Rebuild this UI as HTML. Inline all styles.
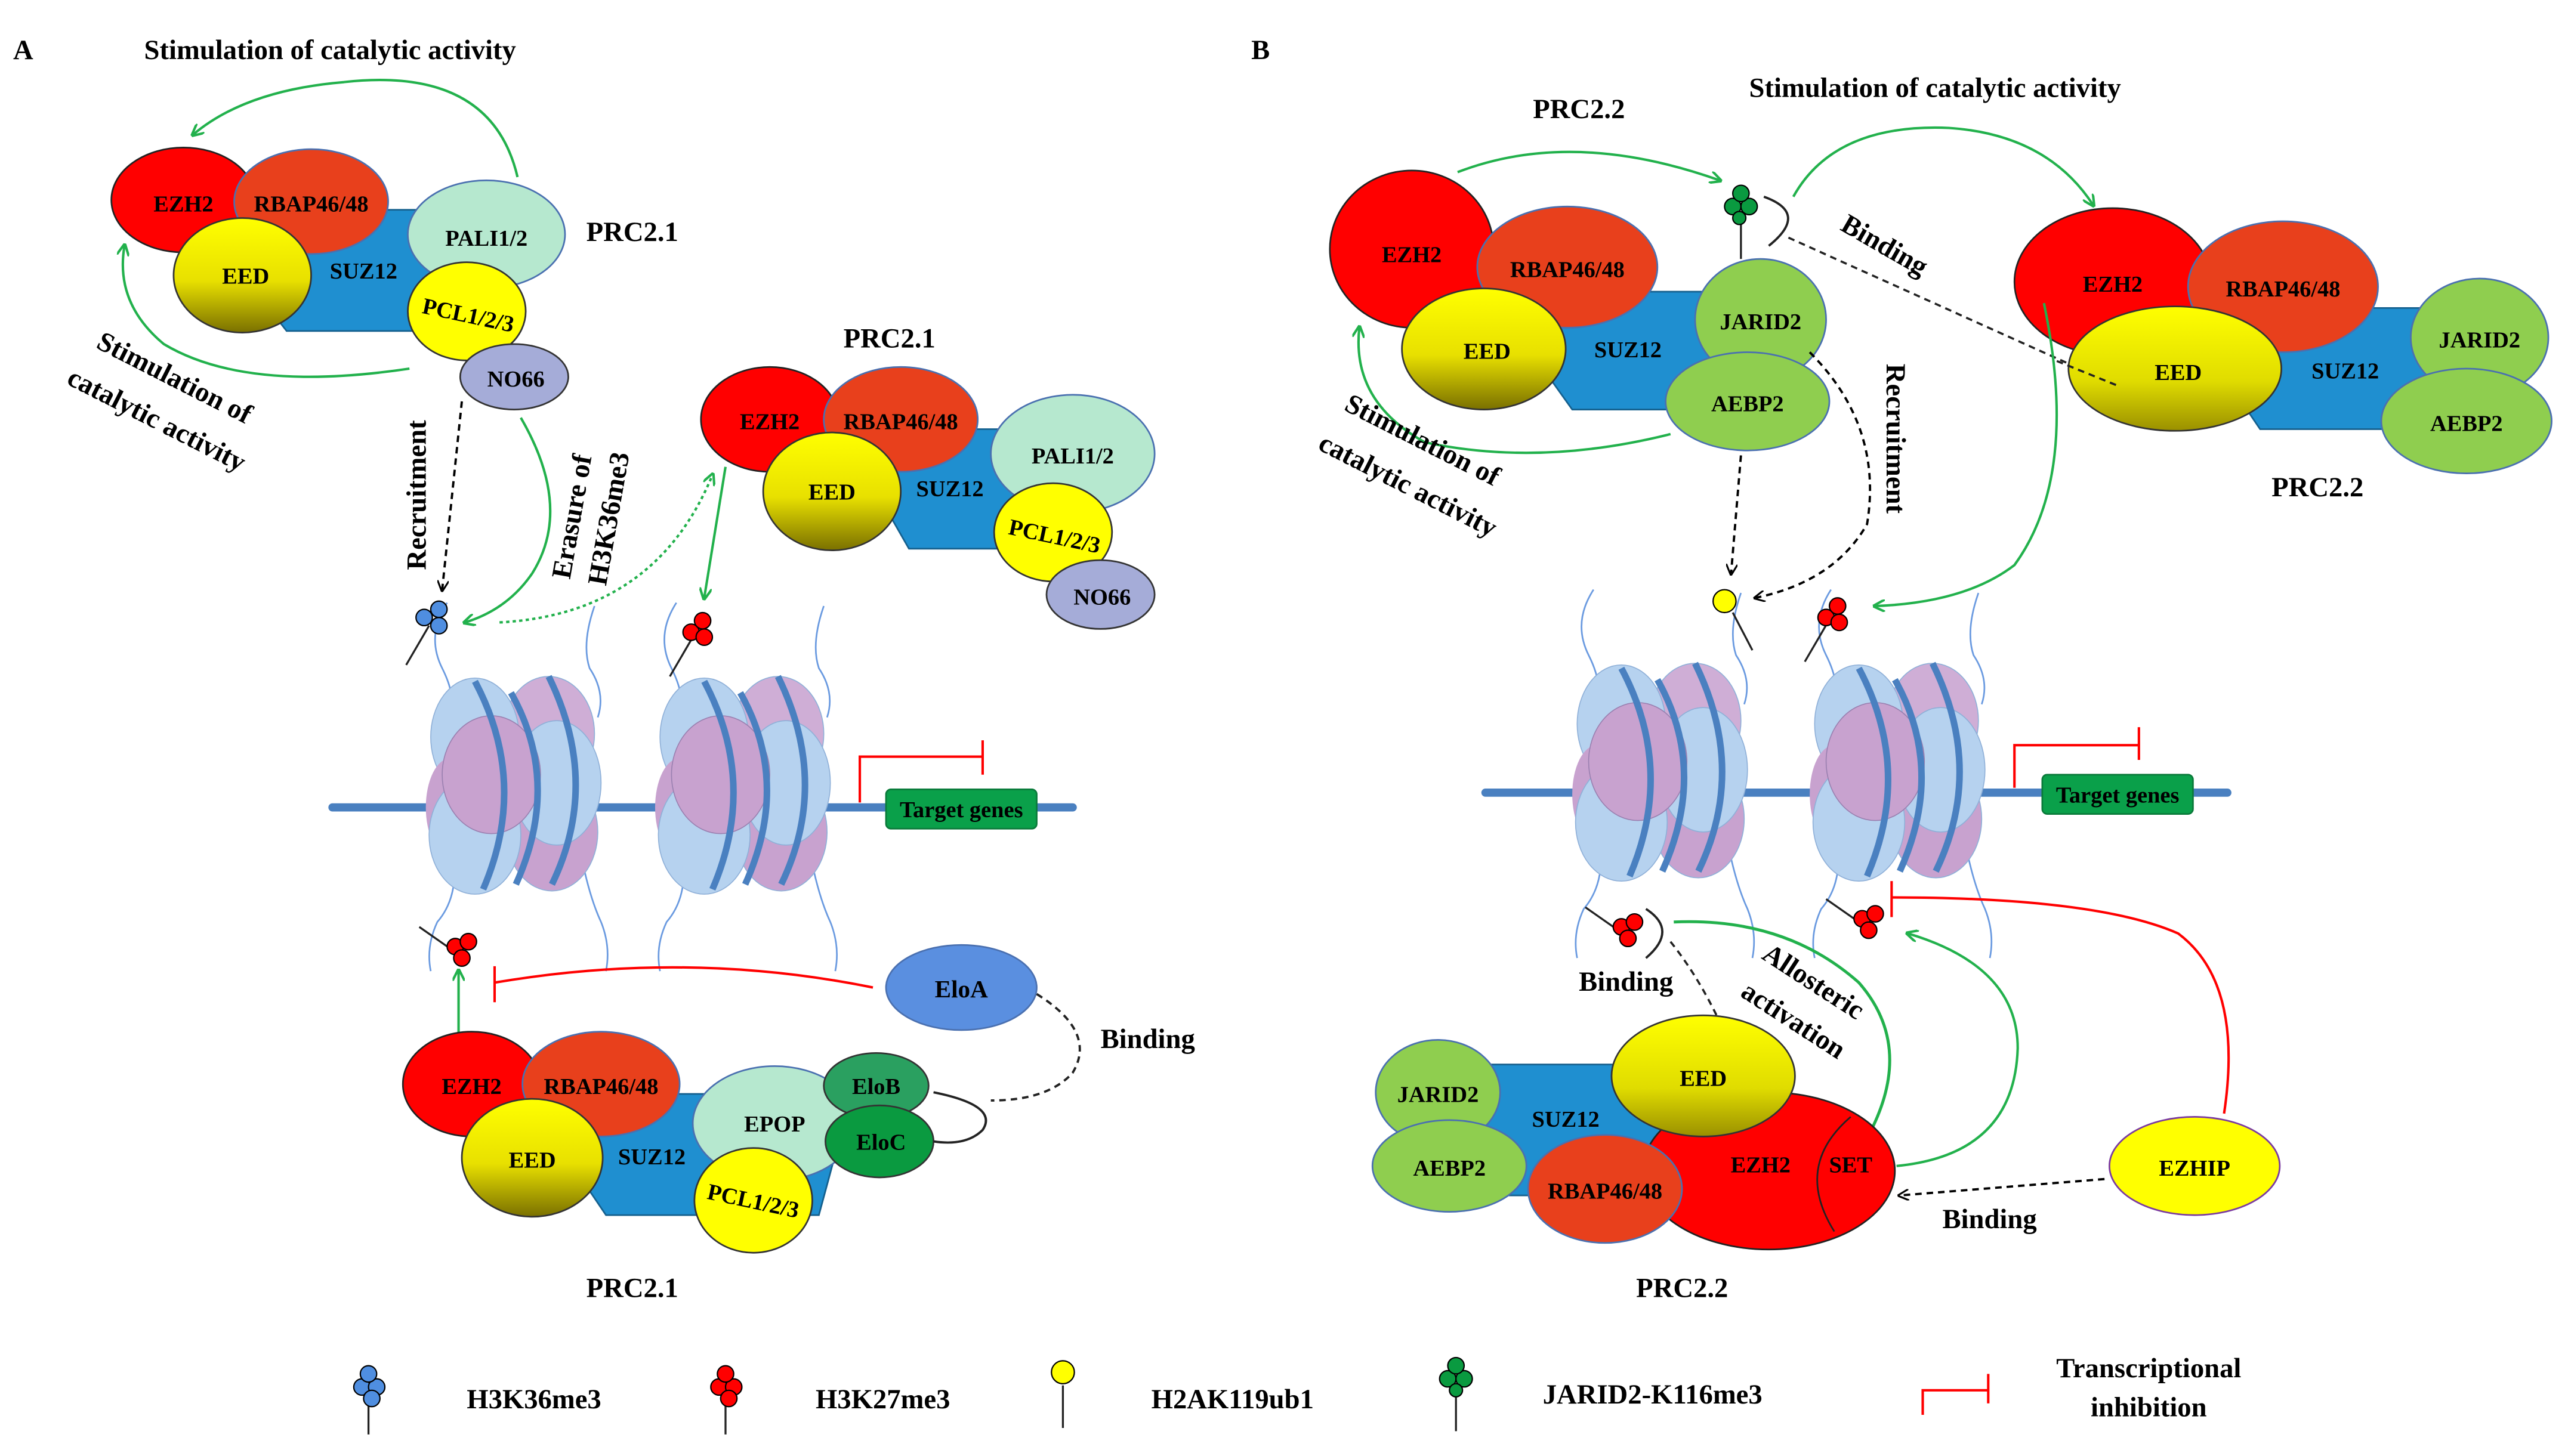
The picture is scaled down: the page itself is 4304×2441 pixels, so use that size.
<!DOCTYPE html>
<html><head><meta charset="utf-8"><style>
html,body{margin:0;padding:0;background:#fff;}
svg{display:block;}
text{font-family:"Liberation Serif",serif;font-weight:bold;fill:#000;}
</style></head><body>
<svg width="4304" height="2441" viewBox="0 0 1568 889" xmlns="http://www.w3.org/2000/svg">
<defs>
<linearGradient id="eed" x1="0" y1="0" x2="0" y2="1"><stop offset="0" stop-color="#ffff00"/><stop offset="0.55" stop-color="#e8e000"/><stop offset="1" stop-color="#7a7000"/></linearGradient>
<linearGradient id="eed2" x1="0" y1="0" x2="0" y2="1"><stop offset="0" stop-color="#ffff00"/><stop offset="0.6" stop-color="#e0dc00"/><stop offset="1" stop-color="#9a9000"/></linearGradient>
<marker id="ga" viewBox="0 0 10 10" refX="8" refY="5" markerWidth="5" markerHeight="5" orient="auto-start-reverse"><path d="M0,0 L10,5 L0,10" fill="none" stroke="#22b14c" stroke-width="2"/></marker>
<marker id="ka" viewBox="0 0 10 10" refX="8" refY="5" markerWidth="5" markerHeight="5" orient="auto"><path d="M0,0 L10,5 L0,10" fill="none" stroke="#000" stroke-width="1.6"/></marker>
<g id="nuc">
<path d="M-42,-110 Q-55,-90 -45,-70 Q-35,-50 -42,-40" fill="none" stroke="#6a9ae0" stroke-width="1"/>
<path d="M48,-108 Q40,-85 45,-70 Q55,-55 50,-40" fill="none" stroke="#6a9ae0" stroke-width="1"/>
<path d="M-38,45 Q-35,70 -48,85 Q-55,100 -52,115" fill="none" stroke="#6a9ae0" stroke-width="1"/>
<path d="M40,45 Q45,70 52,85 Q58,100 55,115" fill="none" stroke="#6a9ae0" stroke-width="1"/>
<ellipse cx="20" cy="-30" rx="28" ry="35" fill="#cfaed6" stroke="#8fb0d8" stroke-width="0.6"/>
<ellipse cx="-25" cy="-28" rx="27" ry="36" fill="#b6d2ef" stroke="#8fb0d8" stroke-width="0.6"/>
<ellipse cx="22" cy="30" rx="28" ry="36" fill="#c8a2cf" stroke="#8fb0d8" stroke-width="0.6"/>
<ellipse cx="-40" cy="15" rx="15" ry="30" fill="#c8a2cf"/>
<ellipse cx="-25" cy="32" rx="28" ry="36" fill="#b6d2ef" stroke="#8fb0d8" stroke-width="0.6"/>
<ellipse cx="25" cy="0" rx="27" ry="38" fill="#b6d2ef" stroke="#8fb0d8" stroke-width="0.6"/>
<ellipse cx="-15" cy="-5" rx="30" ry="36" fill="#c8a2cf" stroke="#9a80b0" stroke-width="0.6"/>
<path d="M-25,-62 Q8,0 -20,65" fill="none" stroke="#4a80c0" stroke-width="4"/>
<path d="M-3,-55 Q28,0 0,62" fill="none" stroke="#4a80c0" stroke-width="4"/>
<path d="M20,-65 Q52,0 22,62" fill="none" stroke="#4a80c0" stroke-width="4"/>
</g>
<g id="mred"><line x1="0" y1="0" x2="-14" y2="24" stroke="#222" stroke-width="1.2"/><circle cx="-1" cy="-3" r="5" fill="#f00" stroke="#000" stroke-width="0.8"/><circle cx="6" cy="-10" r="5" fill="#f00" stroke="#000" stroke-width="0.8"/><circle cx="7" cy="0" r="5" fill="#f00" stroke="#000" stroke-width="0.8"/></g>
<g id="mred2"><line x1="0" y1="0" x2="-20" y2="-14" stroke="#222" stroke-width="1.2"/><circle cx="2" cy="-2" r="5" fill="#f00" stroke="#000" stroke-width="0.8"/><circle cx="10" cy="-5" r="5" fill="#f00" stroke="#000" stroke-width="0.8"/><circle cx="6" cy="5" r="5" fill="#f00" stroke="#000" stroke-width="0.8"/></g>
<g id="mblue"><line x1="0" y1="0" x2="-14" y2="24" stroke="#222" stroke-width="1.2"/><circle cx="-3" cy="-5" r="5" fill="#4f8ee0" stroke="#000" stroke-width="0.8"/><circle cx="6" cy="-10" r="5" fill="#4f8ee0" stroke="#000" stroke-width="0.8"/><circle cx="6" cy="0" r="5" fill="#4f8ee0" stroke="#000" stroke-width="0.8"/></g>
</defs>

<text x="8" y="36" font-size="17">A</text>
<text x="764" y="36" font-size="17">B</text>
<text x="88" y="36" font-size="17">Stimulation of catalytic activity</text>
<text x="1068" y="59" font-size="17">Stimulation of catalytic activity</text>

<!-- DNA -->
<line x1="203" y1="493" x2="655" y2="493" stroke="#4a80c0" stroke-width="5" stroke-linecap="round"/>
<line x1="907" y1="484" x2="1360" y2="484" stroke="#4a80c0" stroke-width="5" stroke-linecap="round"/>
<use href="#nuc" transform="translate(315,478)"/>
<use href="#nuc" transform="translate(455,478)"/>
<use href="#nuc" transform="translate(1015,470)"/>
<use href="#nuc" transform="translate(1160,470)"/>
<rect x="541" y="482" width="92" height="24" rx="3" fill="#0aa04a" stroke="#0a7a3a"/>
<text x="587" y="499" font-size="14" text-anchor="middle">Target genes</text>
<path d="M525,490 V462 H600 M600,452 V473" fill="none" stroke="#f00" stroke-width="1.5"/>
<rect x="1247" y="473" width="92" height="24" rx="3" fill="#0aa04a" stroke="#0a7a3a"/>
<text x="1293" y="490" font-size="14" text-anchor="middle">Target genes</text>
<path d="M1230,481 V455 H1306 M1306,444 V464" fill="none" stroke="#f00" stroke-width="1.5"/>

<!-- A top complex -->
<path d="M150,128 H285 L300,160 L285,202 H175 L150,170 Z" fill="#1f8fd0" stroke="#15608e"/>
<ellipse cx="112" cy="122" rx="44" ry="32" fill="#f00" stroke="#222"/>
<ellipse cx="190" cy="123" rx="47" ry="32" fill="#e8401c" stroke="#4a70b0"/>
<ellipse cx="148" cy="168" rx="42" ry="35" fill="url(#eed)" stroke="#333"/>
<ellipse cx="297" cy="143" rx="48" ry="33" fill="#b6e8cf" stroke="#4a70b0"/>
<ellipse cx="285" cy="190" rx="36" ry="30" fill="#ffff00" stroke="#333"/>
<ellipse cx="314" cy="230" rx="33" ry="20" fill="#a5acd8" stroke="#333"/>
<text x="112" y="129" font-size="14" text-anchor="middle">EZH2</text>
<text x="190" y="129" font-size="14" text-anchor="middle">RBAP46/48</text>
<text x="150" y="173" font-size="14" text-anchor="middle">EED</text>
<text x="222" y="170" font-size="14" text-anchor="middle">SUZ12</text>
<text x="297" y="150" font-size="14" text-anchor="middle">PALI1/2</text>
<text x="286" y="197" font-size="14" text-anchor="middle" transform="rotate(12 286 192)">PCL1/2/3</text>
<text x="315" y="236" font-size="14" text-anchor="middle">NO66</text>
<text x="358" y="147" font-size="17">PRC2.1</text>
<path d="M316,108 Q300,40 210,50 Q150,55 118,82" fill="none" stroke="#22b14c" stroke-width="1.5" marker-end="url(#ga)"/>
<path d="M250,225 Q150,240 100,210 Q70,185 76,150" fill="none" stroke="#22b14c" stroke-width="1.5" marker-end="url(#ga)"/>
<text font-size="17" transform="translate(58,212) rotate(27)">Stimulation of</text>
<text font-size="17" transform="translate(40,234) rotate(27)">catalytic activity</text>

<!-- A second complex -->
<path d="M540,262 H650 L668,300 L650,335 H555 L535,300 Z" fill="#1f8fd0" stroke="#15608e"/>
<ellipse cx="470" cy="256" rx="42" ry="32" fill="#f00" stroke="#222"/>
<ellipse cx="550" cy="256" rx="47" ry="32" fill="#e8401c" stroke="#4a70b0"/>
<ellipse cx="508" cy="300" rx="42" ry="36" fill="url(#eed)" stroke="#333"/>
<ellipse cx="655" cy="277" rx="50" ry="36" fill="#b6e8cf" stroke="#4a70b0"/>
<ellipse cx="643" cy="325" rx="36" ry="30" fill="#ffff00" stroke="#333"/>
<ellipse cx="672" cy="363" rx="33" ry="21" fill="#a5acd8" stroke="#333"/>
<text x="470" y="262" font-size="14" text-anchor="middle">EZH2</text>
<text x="550" y="262" font-size="14" text-anchor="middle">RBAP46/48</text>
<text x="508" y="305" font-size="14" text-anchor="middle">EED</text>
<text x="580" y="303" font-size="14" text-anchor="middle">SUZ12</text>
<text x="655" y="283" font-size="14" text-anchor="middle">PALI1/2</text>
<text x="644" y="332" font-size="14" text-anchor="middle" transform="rotate(12 644 327)">PCL1/2/3</text>
<text x="673" y="369" font-size="14" text-anchor="middle">NO66</text>
<text x="515" y="212" font-size="17">PRC2.1</text>
<line x1="443" y1="285" x2="430" y2="365" stroke="#22b14c" stroke-width="1.5" marker-end="url(#ga)"/>
<path d="M305,380 Q400,375 435,290" fill="none" stroke="#22b14c" stroke-width="1.5" stroke-dasharray="2,2" marker-end="url(#ga)"/>

<!-- A marks & arrows -->
<use href="#mblue" transform="translate(262,382)"/>
<use href="#mred" transform="translate(423,389)"/>
<line x1="282" y1="245" x2="270" y2="360" stroke="#000" stroke-width="1.4" stroke-dasharray="4,3" marker-end="url(#ka)"/>
<text font-size="17" transform="translate(260,348) rotate(-90)">Recruitment</text>
<path d="M318,255 Q350,310 325,350 Q310,372 284,380" fill="none" stroke="#22b14c" stroke-width="1.5" marker-end="url(#ga)"/>
<text font-size="17" transform="translate(348,354) rotate(-80)">Erasure of</text>
<text font-size="17" transform="translate(370,358) rotate(-80)">H3K36me3</text>

<!-- A bottom complex -->
<use href="#mred2" transform="translate(276,580)"/>
<line x1="280" y1="632" x2="280" y2="593" stroke="#22b14c" stroke-width="1.5" marker-end="url(#ga)"/>
<path d="M533,603 Q420,580 302,600 M302,590 V612" fill="none" stroke="#f00" stroke-width="1.5"/>
<path d="M350,668 H500 L510,705 L500,742 H370 L345,705 Z" fill="#1f8fd0" stroke="#15608e"/>
<ellipse cx="288" cy="662" rx="42" ry="32" fill="#f00" stroke="#222"/>
<ellipse cx="367" cy="662" rx="48" ry="32" fill="#e8401c" stroke="#4a70b0"/>
<ellipse cx="325" cy="707" rx="43" ry="36" fill="url(#eed)" stroke="#333"/>
<ellipse cx="473" cy="686" rx="50" ry="35" fill="#b6e8cf" stroke="#4a70b0"/>
<ellipse cx="535" cy="663" rx="32" ry="20" fill="#2aa060" stroke="#333"/>
<ellipse cx="537" cy="697" rx="33" ry="22" fill="#0a9a40" stroke="#333"/>
<ellipse cx="460" cy="733" rx="36" ry="32" fill="#ffff00" stroke="#333"/>
<ellipse cx="587" cy="603" rx="46" ry="26" fill="#5a8fe0" stroke="#4a70b0"/>
<text x="288" y="668" font-size="14" text-anchor="middle">EZH2</text>
<text x="367" y="668" font-size="14" text-anchor="middle">RBAP46/48</text>
<text x="325" y="713" font-size="14" text-anchor="middle">EED</text>
<text x="398" y="711" font-size="14" text-anchor="middle">SUZ12</text>
<text x="473" y="691" font-size="14" text-anchor="middle">EPOP</text>
<text x="535" y="668" font-size="14" text-anchor="middle">EloB</text>
<text x="538" y="702" font-size="14" text-anchor="middle">EloC</text>
<text x="460" y="738" font-size="14" text-anchor="middle" transform="rotate(12 460 733)">PCL1/2/3</text>
<text x="587" y="609" font-size="15" text-anchor="middle">EloA</text>
<path d="M570,667 Q610,675 600,690 Q590,700 570,697" fill="none" stroke="#222" stroke-width="1.4"/>
<path d="M633,607 Q670,630 655,655 Q640,672 605,672" fill="none" stroke="#222" stroke-width="1.4" stroke-dasharray="4,3"/>
<text x="672" y="640" font-size="17">Binding</text>
<text x="358" y="792" font-size="17">PRC2.1</text>

<!-- B top-left complex -->
<path d="M940,178 H1055 L1070,215 L1055,250 H960 L935,215 Z" fill="#1f8fd0" stroke="#15608e"/>
<ellipse cx="862" cy="152" rx="50" ry="48" fill="#f00" stroke="#222"/>
<ellipse cx="957" cy="163" rx="55" ry="37" fill="#e8401c" stroke="#4a70b0"/>
<ellipse cx="906" cy="213" rx="50" ry="37" fill="url(#eed)" stroke="#333"/>
<ellipse cx="1075" cy="195" rx="40" ry="37" fill="#8fce4f" stroke="#4a70b0"/>
<ellipse cx="1067" cy="245" rx="50" ry="30" fill="#8fce4f" stroke="#4a70b0"/>
<text x="862" y="160" font-size="14" text-anchor="middle">EZH2</text>
<text x="957" y="169" font-size="14" text-anchor="middle">RBAP46/48</text>
<text x="908" y="219" font-size="14" text-anchor="middle">EED</text>
<text x="994" y="218" font-size="14" text-anchor="middle">SUZ12</text>
<text x="1075" y="201" font-size="14" text-anchor="middle">JARID2</text>
<text x="1067" y="251" font-size="14" text-anchor="middle">AEBP2</text>
<text x="936" y="72" font-size="17">PRC2.2</text>
<line x1="1063" y1="158" x2="1063" y2="133" stroke="#222" stroke-width="1.2"/>
<circle cx="1058" cy="126" r="5" fill="#0a9a40" stroke="#000" stroke-width="0.8"/>
<circle cx="1068" cy="126" r="5" fill="#0a9a40" stroke="#000" stroke-width="0.8"/>
<circle cx="1063" cy="118" r="5" fill="#0a9a40" stroke="#000" stroke-width="0.8"/>
<circle cx="1062" cy="133" r="4" fill="#0a9a40" stroke="#000" stroke-width="0.8"/>
<path d="M1077,120 Q1105,130 1080,150" fill="none" stroke="#222" stroke-width="1.4"/>
<path d="M1092,145 L1292,235" stroke="#222" stroke-width="1.3" stroke-dasharray="4,3"/>
<text font-size="17" transform="translate(1123,140) rotate(30)">Binding</text>
<path d="M890,105 Q960,78 1050,110" fill="none" stroke="#22b14c" stroke-width="1.5" marker-end="url(#ga)"/>
<path d="M1095,120 Q1120,75 1190,78 Q1250,82 1278,125" fill="none" stroke="#22b14c" stroke-width="1.5" marker-end="url(#ga)"/>
<path d="M1020,265 Q940,285 870,270 Q825,245 830,200" fill="none" stroke="#22b14c" stroke-width="1.5" marker-end="url(#ga)"/>
<text font-size="17" transform="translate(820,250) rotate(27)">Stimulation of</text>
<text font-size="17" transform="translate(804,274) rotate(27)">catalytic activity</text>
<line x1="1063" y1="278" x2="1057" y2="350" stroke="#000" stroke-width="1.4" stroke-dasharray="4,3" marker-end="url(#ka)"/>
<path d="M1105,215 Q1150,260 1140,320 Q1120,355 1072,365" fill="none" stroke="#000" stroke-width="1.4" stroke-dasharray="4,3" marker-end="url(#ka)"/>
<text font-size="17" transform="translate(1152,222) rotate(90)">Recruitment</text>
<line x1="1070" y1="397" x2="1058" y2="374" stroke="#222" stroke-width="1.2"/>
<circle cx="1053" cy="367" r="7" fill="#ffff00" stroke="#000" stroke-width="0.8"/>
<use href="#mred" transform="translate(1116,380)"/>

<!-- B top-right complex -->
<path d="M1360,188 H1495 L1510,225 L1495,262 H1380 L1355,225 Z" fill="#1f8fd0" stroke="#15608e"/>
<ellipse cx="1290" cy="172" rx="60" ry="45" fill="#f00" stroke="#222"/>
<ellipse cx="1394" cy="175" rx="58" ry="40" fill="#e8401c" stroke="#4a70b0"/>
<ellipse cx="1328" cy="225" rx="65" ry="38" fill="url(#eed2)" stroke="#333"/>
<ellipse cx="1514" cy="206" rx="42" ry="36" fill="#8fce4f" stroke="#4a70b0"/>
<ellipse cx="1506" cy="257" rx="52" ry="32" fill="#8fce4f" stroke="#4a70b0"/>
<text x="1290" y="178" font-size="14" text-anchor="middle">EZH2</text>
<text x="1394" y="181" font-size="14" text-anchor="middle">RBAP46/48</text>
<text x="1330" y="232" font-size="14" text-anchor="middle">EED</text>
<text x="1432" y="231" font-size="14" text-anchor="middle">SUZ12</text>
<text x="1514" y="212" font-size="14" text-anchor="middle">JARID2</text>
<text x="1506" y="263" font-size="14" text-anchor="middle">AEBP2</text>
<text x="1387" y="303" font-size="17">PRC2.2</text>
<path d="M1292,235 L1255,220" stroke="#222" stroke-width="1.3" stroke-dasharray="4,3"/>
<path d="M1248,185 Q1270,290 1230,345 Q1200,368 1145,370" fill="none" stroke="#22b14c" stroke-width="1.5" marker-end="url(#ga)"/>

<!-- B bottom -->
<use href="#mred2" transform="translate(988,568)"/>
<use href="#mred2" transform="translate(1135,563)"/>
<path d="M1005,555 Q1025,568 1005,585" fill="none" stroke="#222" stroke-width="1.4"/>
<path d="M1020,575 Q1040,600 1055,635" fill="none" stroke="#222" stroke-width="1.3" stroke-dasharray="4,3"/>
<text x="964" y="605" font-size="17">Binding</text>
<path d="M1022,563 Q1090,560 1135,600 Q1170,640 1140,695" fill="none" stroke="#22b14c" stroke-width="1.8" marker-end="url(#ga)"/>
<text font-size="17" transform="translate(1075,585) rotate(33)">Allosteric</text>
<text font-size="17" transform="translate(1062,608) rotate(33)">activation</text>
<path d="M1158,712 Q1230,705 1232,640 Q1232,590 1165,570" fill="none" stroke="#22b14c" stroke-width="1.5" marker-end="url(#ga)"/>
<path d="M1358,680 Q1370,600 1330,570 Q1280,548 1155,548 M1155,538 V560" fill="none" stroke="#f00" stroke-width="1.5"/>
<path d="M900,650 H1030 L1035,730 H910 Z" fill="#1f8fd0" stroke="#15608e"/>
<ellipse cx="1080" cy="715" rx="77" ry="48" fill="#f00" stroke="#222"/>
<path d="M1130,682 Q1095,712 1120,752" fill="none" stroke="#222" stroke-width="1"/>
<ellipse cx="1040" cy="657" rx="56" ry="37" fill="url(#eed2)" stroke="#333"/>
<ellipse cx="878" cy="667" rx="38" ry="32" fill="#8fce4f" stroke="#4a70b0"/>
<ellipse cx="885" cy="712" rx="47" ry="28" fill="#8fce4f" stroke="#4a70b0"/>
<ellipse cx="980" cy="726" rx="47" ry="33" fill="#e8401c" stroke="#4a70b0"/>
<ellipse cx="1340" cy="712" rx="52" ry="30" fill="#ffff00" stroke="#7a3aa0"/>
<text x="1040" y="663" font-size="14" text-anchor="middle">EED</text>
<text x="878" y="673" font-size="14" text-anchor="middle">JARID2</text>
<text x="885" y="718" font-size="14" text-anchor="middle">AEBP2</text>
<text x="956" y="688" font-size="14" text-anchor="middle">SUZ12</text>
<text x="980" y="732" font-size="14" text-anchor="middle">RBAP46/48</text>
<text x="1075" y="716" font-size="14" text-anchor="middle">EZH2</text>
<text x="1130" y="716" font-size="14" text-anchor="middle">SET</text>
<text x="1340" y="718" font-size="14" text-anchor="middle">EZHIP</text>
<line x1="1285" y1="720" x2="1160" y2="730" stroke="#000" stroke-width="1.4" stroke-dasharray="4,3" marker-end="url(#ka)"/>
<text x="1186" y="750" font-size="17">Binding</text>
<text x="999" y="792" font-size="17">PRC2.2</text>

<!-- Legend -->
<g transform="translate(225,850)"><line x1="0" y1="0" x2="0" y2="26" stroke="#222" stroke-width="1.2"/><circle cx="-4" cy="-3" r="5" fill="#4f8ee0" stroke="#000" stroke-width="0.8"/><circle cx="5" cy="-3" r="5" fill="#4f8ee0" stroke="#000" stroke-width="0.8"/><circle cx="0" cy="-11" r="5" fill="#4f8ee0" stroke="#000" stroke-width="0.8"/><circle cx="2" cy="4" r="5" fill="#4f8ee0" stroke="#000" stroke-width="0.8"/></g>
<text x="285" y="860" font-size="17">H3K36me3</text>
<g transform="translate(443,850)"><line x1="0" y1="0" x2="0" y2="26" stroke="#222" stroke-width="1.2"/><circle cx="-4" cy="-3" r="5" fill="#f00" stroke="#000" stroke-width="0.8"/><circle cx="5" cy="-3" r="5" fill="#f00" stroke="#000" stroke-width="0.8"/><circle cx="0" cy="-11" r="5" fill="#f00" stroke="#000" stroke-width="0.8"/><circle cx="2" cy="4" r="5" fill="#f00" stroke="#000" stroke-width="0.8"/></g>
<text x="498" y="860" font-size="17">H3K27me3</text>
<line x1="649" y1="846" x2="649" y2="872" stroke="#222" stroke-width="1.2"/>
<circle cx="649" cy="838" r="7" fill="#ffff00" stroke="#000" stroke-width="0.8"/>
<text x="703" y="860" font-size="17">H2AK119ub1</text>
<g transform="translate(889,846)"><line x1="0" y1="0" x2="0" y2="28" stroke="#222" stroke-width="1.2"/><circle cx="-5" cy="-4" r="5" fill="#0a9a40" stroke="#000" stroke-width="0.8"/><circle cx="5" cy="-4" r="5" fill="#0a9a40" stroke="#000" stroke-width="0.8"/><circle cx="0" cy="-12" r="5" fill="#0a9a40" stroke="#000" stroke-width="0.8"/><circle cx="0" cy="3" r="4" fill="#0a9a40" stroke="#000" stroke-width="0.8"/></g>
<text x="942" y="857" font-size="17">JARID2-K116me3</text>
<path d="M1174,864 V849 H1214 M1214,839 V857" fill="none" stroke="#f00" stroke-width="1.5"/>
<text x="1312" y="841" font-size="17" text-anchor="middle">Transcriptional</text>
<text x="1312" y="865" font-size="17" text-anchor="middle">inhibition</text>
</svg>
</body></html>
